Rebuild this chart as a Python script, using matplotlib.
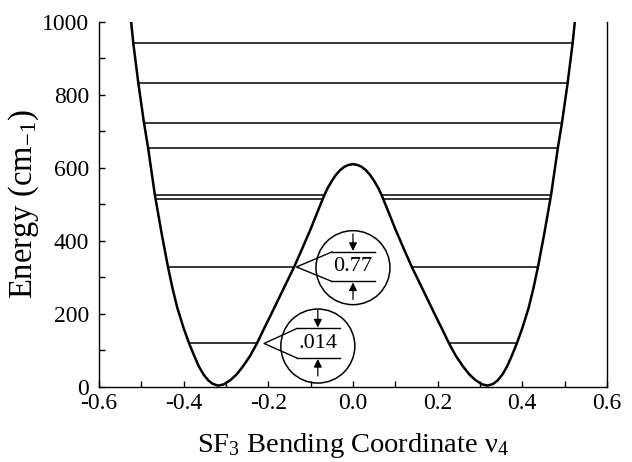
import matplotlib
matplotlib.use("Agg")
import matplotlib.pyplot as plt
from matplotlib.patches import Ellipse
from matplotlib.ticker import MultipleLocator, FuncFormatter

plt.rcParams['font.family'] = ['Liberation Serif', 'DejaVu Serif']
plt.rcParams['mathtext.fontset'] = 'custom'
plt.rcParams['mathtext.rm'] = 'Liberation Serif'
plt.rcParams['mathtext.it'] = 'Liberation Serif:italic'
plt.rcParams['axes.unicode_minus'] = False

# ---- potential curve ----
curve_x = [-0.524, -0.519, -0.507, -0.494, -0.484, -0.468, -0.452, -0.437, -0.426, -0.415,
           -0.400, -0.387, -0.375, -0.364, -0.353, -0.342, -0.331, -0.318, -0.305, -0.290,
           -0.275, -0.260, -0.243, -0.227, -0.210, -0.195, -0.180, -0.160, -0.139, -0.120,
           -0.100, -0.080, -0.068, -0.060, -0.050, -0.040, -0.030, -0.020, -0.010, 0.000,
           0.010, 0.020, 0.030, 0.040, 0.050, 0.060, 0.068, 0.080, 0.100, 0.120, 0.139,
           0.160, 0.180, 0.195, 0.210, 0.227, 0.243, 0.260, 0.275, 0.290, 0.305, 0.318,
           0.331, 0.342, 0.353, 0.364, 0.375, 0.387, 0.400, 0.415, 0.426, 0.437, 0.452,
           0.468, 0.484, 0.494, 0.507, 0.519, 0.524]
curve_E = [1000, 943, 832, 726, 655, 526, 420, 328, 268, 216,
           160, 118, 84, 55, 33, 17, 7, 2.5, 6, 17,
           33, 55, 84, 118, 159, 194, 230, 278, 328, 378,
           432, 490, 524, 544, 564, 581, 594, 603, 608, 610,
           608, 603, 594, 581, 564, 544, 524, 490, 432, 378, 328,
           278, 230, 194, 159, 118, 84, 55, 33, 17, 6, 2.5,
           7, 17, 33, 55, 84, 118, 160, 216, 268, 328, 420,
           526, 655, 726, 832, 943, 1000]

# ---- energy levels above the barrier (span full well) ----
full_E = [653, 724, 832, 943]
full_half = [0.484, 0.494, 0.507, 0.519]

# ---- energy levels below the barrier (one segment in each well) ----
well_E = [118, 328, 514, 526]
well_outer = [0.387, 0.437, 0.466, 0.468]
well_inner = [0.227, 0.139, 0.072, 0.068]

# ---- magnified splittings ----
split_labels = ['.014', '0.77']
split_E = [118, 328]

xticks = [-0.6, -0.4, -0.2, 0.0, 0.2, 0.4, 0.6]
yticks = [0, 200, 400, 600, 800, 1000]

fig = plt.figure(figsize=(6.32, 4.62), dpi=100)
ax = fig.add_axes([0.1566, 0.1634, 0.8038, 0.789])
ax.set_xlim(-0.6, 0.6)
ax.set_ylim(0, 1000)

ax.plot(curve_x, curve_E, color='black', lw=1.8, solid_joinstyle='round', zorder=3)

for e, h in zip(full_E, full_half):
    ax.plot([-h, h], [e, e], color='black', lw=1.1)
for e, o, i in zip(well_E, well_outer, well_inner):
    ax.plot([-o, -i], [e, e], color='black', lw=1.1)
    ax.plot([i, o], [e, e], color='black', lw=1.1)

# pixel scale helpers
fig.canvas.draw()
bb = ax.get_window_extent()
ppx = bb.width / 1.2
ppy = bb.height / 1000.0

def dx(p):
    return p / ppx

def dy(p):
    return p / ppy

# callout geometry: apex x, circle center (data)
apex_x = [-0.210, -0.1335]
center_x = [-0.083, 0.0]
center_dE = [-7, -2]

for lab, e, ax_x, cx, de in zip(split_labels, split_E, apex_x, center_x, center_dE):
    cy = e + de
    r = 37.0
    ax.add_patch(Ellipse((cx, cy), 2 * dx(r), 2 * dy(r), fill=False,
                         edgecolor='black', lw=1.1, zorder=4))
    fx = cx - dx(21)
    top = e + dy(15)
    bot = e - dy(14.5)
    ax.plot([fx, ax_x, fx], [top, e, bot], color='black', lw=1.0, zorder=4)
    ax.plot([fx, cx + dx(22)], [top, top], color='black', lw=1.0, zorder=4)
    ax.plot([fx, cx + dx(22)], [bot, bot], color='black', lw=1.0, zorder=4)
    ax.annotate('', xy=(cx, top + dy(1)), xytext=(cx, top + dy(18)),
                arrowprops=dict(arrowstyle='-|>', color='black', lw=0.9,
                                mutation_scale=12, shrinkA=0, shrinkB=0), zorder=4)
    ax.annotate('', xy=(cx, bot - dy(1)), xytext=(cx, bot - dy(18)),
                arrowprops=dict(arrowstyle='-|>', color='black', lw=0.9,
                                mutation_scale=12, shrinkA=0, shrinkB=0), zorder=4)
    ax.text(cx, (top + bot) / 2, lab, ha='center', va='center', fontsize=16, zorder=5)

ax.spines['top'].set_visible(False)
for s in ['left', 'right', 'bottom']:
    ax.spines[s].set_linewidth(1.0)

ax.set_xticks(xticks)
ax.set_yticks(yticks)
ax.xaxis.set_minor_locator(MultipleLocator(0.1))
ax.yaxis.set_minor_locator(MultipleLocator(100))
ax.xaxis.set_major_formatter(FuncFormatter(lambda v, p: f"{v:.1f}".replace('-0.0', '0.0')))
ax.tick_params(axis='both', which='both', direction='in', length=4.5, width=1.0,
               labelsize=17, top=False, right=False)
ax.tick_params(axis='x', which='major', pad=5)
ax.tick_params(axis='y', which='major', pad=7)

ax.set_xlabel(r'SF$_3$ Bending Coordinate ν$_4$', fontsize=20.5, labelpad=12)
ax.set_ylabel(r'Energy (cm$_{-1}$)', fontsize=23.5, labelpad=0.5)

fig.savefig('out.png', dpi=100)
